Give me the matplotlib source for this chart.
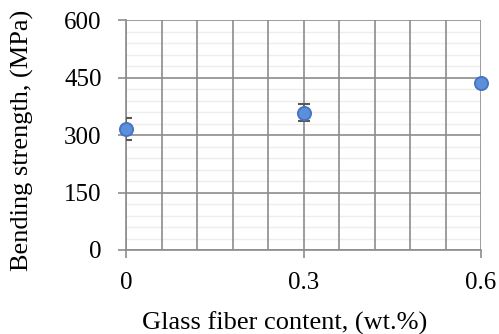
import numpy as np
import matplotlib.pyplot as plt
from matplotlib.ticker import MultipleLocator

plt.rcParams['font.family'] = ['Liberation Serif', 'DejaVu Serif']

content = [0, 0.3, 0.6]
strength = [316, 358, 435]
err = [29, 22, 5]
xtick_labels = ['0', '0.3', '0.6']

fig = plt.figure(figsize=(4.99, 3.34), dpi=100)
ax = fig.add_axes([0.2525, 0.2515, 0.7115, 0.6885])

ax.set_xlim(0, 0.6)
ax.set_ylim(0, 600)
ax.set_xticks(content)
ax.set_xticklabels(xtick_labels)
ax.xaxis.set_minor_locator(MultipleLocator(0.06))
ax.yaxis.set_major_locator(MultipleLocator(150))

# faint minor horizontal lines every 30 MPa
for yv in np.arange(30, 600, 30):
    if yv % 150:
        ax.axhline(yv, color='#ededed', linewidth=1.0, zorder=0.1)

ax.grid(which='major', color='#8c8c8c', linewidth=1.2)
ax.grid(which='minor', axis='x', color='#8c8c8c', linewidth=1.2)
ax.set_axisbelow(True)

for s in ['top', 'right']:
    ax.spines[s].set_visible(False)
for s in ['left', 'bottom']:
    ax.spines[s].set_color('#8c8c8c')
    ax.spines[s].set_linewidth(1.2)

ax.tick_params(which='major', length=5.5, width=1.2, color='#8c8c8c', labelsize=18)
ax.tick_params(axis='x', pad=10)
ax.tick_params(axis='y', pad=12)
ax.tick_params(which='minor', length=0)

ax.errorbar(content, strength, yerr=err, fmt='none', ecolor='#595959', elinewidth=1.2,
            capsize=4, capthick=1.5, zorder=4)
ax.plot(content, strength, 'o', color='#5b8fd8', markeredgecolor='#4472c4',
        markersize=9.5, markeredgewidth=1.3, clip_on=False, zorder=5)

fig.text(0.57, 0.033, 'Glass fiber content, (wt.%)', fontsize=19, ha='center', va='center')
fig.text(0.044, 0.581, 'Bending strength, (MPa)', fontsize=19, rotation=90,
         ha='center', va='center')

fig.savefig('out.png', dpi=100)
